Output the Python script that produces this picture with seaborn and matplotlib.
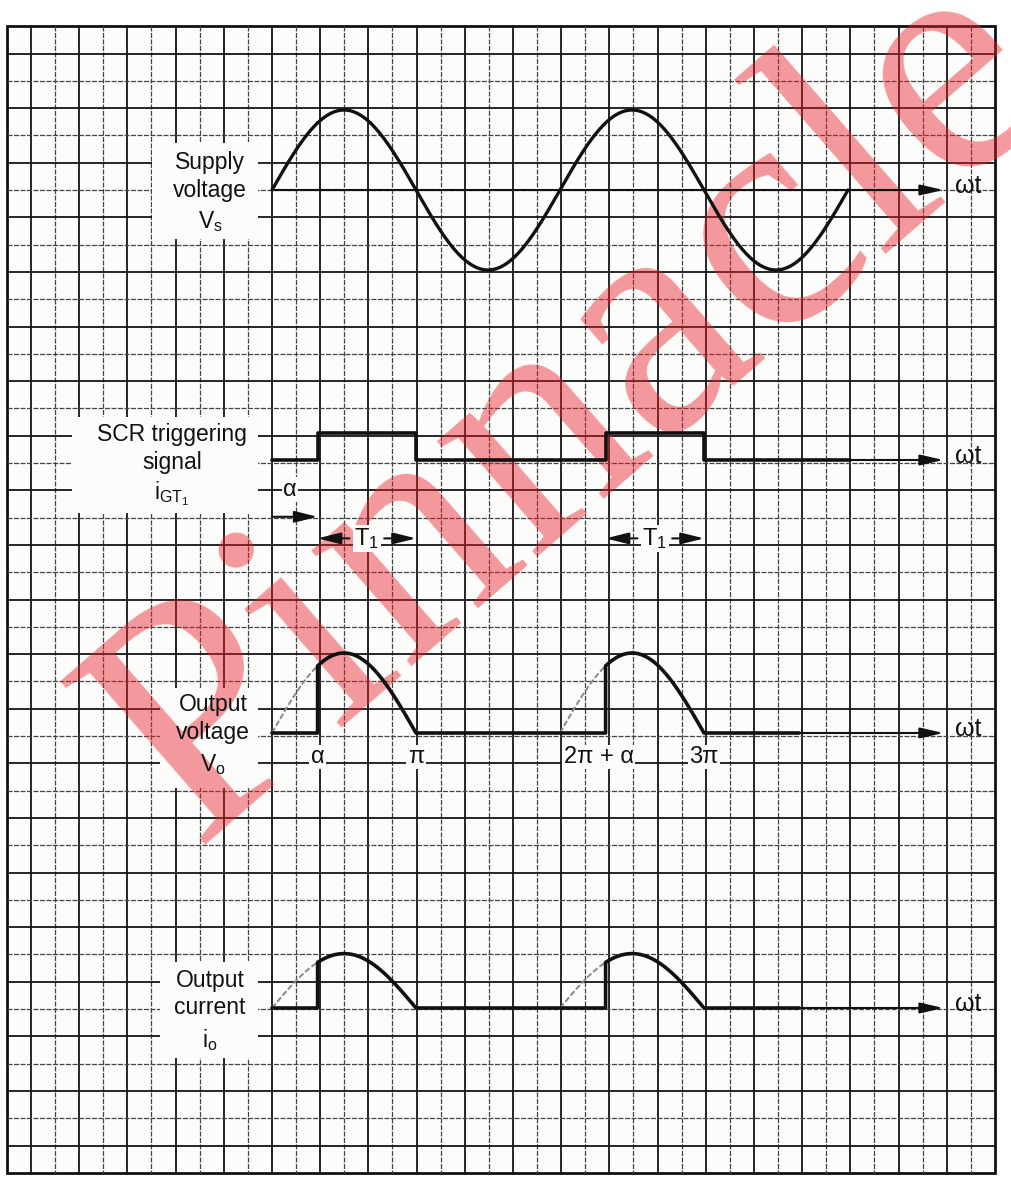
import numpy as np
import pandas as pd
import matplotlib
matplotlib.use("Agg")
from matplotlib import pyplot as plt
from matplotlib.patches import Rectangle
import seaborn as sns

# switching angles of the half-wave controlled rectifier (radians)
alpha = np.deg2rad(57)
fire_angles = [alpha, 2 * np.pi + alpha]
cutoff_angles = [np.pi, 3 * np.pi]
cycle_starts = [0.0, 2 * np.pi]
supply_end = 4 * np.pi

# peak heights, in units of 3 grid squares
vs_peak = 1.0
vo_peak = 1.0
io_peak = 0.68
gate_height = 0.34

output_ticks = [alpha, np.pi, 2 * np.pi + alpha, 3 * np.pi]
output_tick_labels = ["α", "π", "2π + α", "3π"]

supply_label = ["Supply", "voltage", r"$\mathregular{V_s}$"]
gate_label = ["SCR triggering", "signal", r"$\mathregular{i_{GT_1}}$"]
vo_label = ["Output", "voltage", r"$\mathregular{V_o}$"]
io_label = ["Output", "current", r"$\mathregular{i_o}$"]

# page layout in pixels
W, H = 1012, 1189
X0 = 272                  # where wt = 0 sits
PX_PER_RAD = 144 / np.pi  # pi spans six squares
PX_PER_UNIT = 80
CELL_X, CELL_Y = 24.1, 27.3
BASELINES = [190, 460, 733, 1008]
PAPER = "#fcfcfa"

sns.set_theme(style="white")
plt.rcParams["font.family"] = ["Liberation Sans", "DejaVu Sans"]
plt.rcParams["mathtext.fontset"] = "custom"
plt.rcParams["mathtext.rm"] = "Liberation Sans"
plt.rcParams["mathtext.it"] = "Liberation Sans"

fig = plt.figure(figsize=(W / 100, H / 100), dpi=100)
fig.patch.set_facecolor("white")

# ---- graph paper ----
paper = fig.add_axes([0, 0, 1, 1])
paper.set_xlim(0, W)
paper.set_ylim(H, 0)
paper.axis("off")
top, bottom = BASELINES[0] - 6 * CELL_Y, BASELINES[0] + 36 * CELL_Y
left, right = X0 - 11 * CELL_X, X0 + 30 * CELL_X
paper.add_patch(Rectangle((left, top), right - left, bottom - top,
                          facecolor=PAPER, edgecolor="#111", lw=2.0, zorder=0))
for k in range(-10, 30):
    x = X0 + k * CELL_X
    if k % 2 == 0:
        paper.vlines(x, top, bottom, color="#151515", lw=1.3, zorder=1)
    else:
        paper.vlines(x, top, bottom, color="#444", lw=0.9,
                     linestyles=(0, (4, 1.2)), zorder=1)
for j in range(-5, 36):
    y = BASELINES[0] + j * CELL_Y
    if j % 2 != 0:
        paper.hlines(y, left, right, color="#151515", lw=1.3, zorder=1)
    else:
        paper.hlines(y, left, right, color="#444", lw=0.9,
                     linestyles=(0, (4, 1.2)), zorder=1)

# cleared areas behind the row labels
for (bx, by, bw, bh) in [(152, 143, 106, 96), (72, 417, 186, 96),
                         (160, 688, 98, 100), (160, 962, 98, 96)]:
    paper.add_patch(Rectangle((bx, by), bw, bh, facecolor=PAPER,
                              edgecolor="none", zorder=2))

# publisher watermark (runs off the top right corner, as in the scan)
paper.text(575, 410, "Pinnacle", rotation=41, fontsize=240,
           family="Liberation Serif", color="#e8202a", alpha=0.45,
           ha="center", va="center", rotation_mode="anchor", zorder=3)


def row_label(lines, cx, ys):
    for txt, y in zip(lines, ys):
        paper.text(cx, y, txt, ha="center", va="center", fontsize=16.5,
                   color="#111", zorder=5)


row_label(supply_label, 210, [162, 190, 222])
row_label(gate_label, 172, [435, 462, 494])
row_label(vo_label, 213, [705, 733, 765])
row_label(io_label, 210, [980, 1007, 1040])


# ---- waveform rows ----
X_LO, X_HI = -0.3, 15.8
Y_LO, Y_HI = -1.3, 1.3


def wave_axes(base):
    l = (X0 + X_LO * PX_PER_RAD) / W
    w = (X_HI - X_LO) * PX_PER_RAD / W
    b = 1 - (base - Y_LO * PX_PER_UNIT) / H
    h = (Y_HI - Y_LO) * PX_PER_UNIT / H
    ax = fig.add_axes([l, b, w, h])
    ax.set_xlim(X_LO, X_HI)
    ax.set_ylim(Y_LO, Y_HI)
    ax.axis("off")
    ax.patch.set_alpha(0)
    return ax


def wt_axis(ax, start, lw=1.5):
    ax.annotate("", xy=(14.65, 0), xytext=(start, 0),
                arrowprops=dict(arrowstyle="-|>,head_length=1.4,head_width=0.32",
                                color="#111", lw=lw, shrinkA=0, shrinkB=0,
                                mutation_scale=10))
    ax.text(14.9, 0.05, "ωt", ha="left", va="center", fontsize=18, color="#111")


def draw(ax, xs, ys, **kw):
    df = pd.DataFrame({"wt": xs, "v": ys})
    sns.lineplot(data=df, x="wt", y="v", ax=ax, sort=False, estimator=None, **kw)


def output_trace(peak, end):
    xs, ys = [0.0], [0.0]
    for f, c in zip(fire_angles, cutoff_angles):
        arc = np.linspace(f, c, 150)
        xs += [f, f] + list(arc)
        ys += [0.0, peak * np.sin(f)] + list(peak * np.sin(arc))
    xs.append(end)
    ys.append(0.0)
    return xs, ys


# supply voltage
ax1 = wave_axes(BASELINES[0])
wt_axis(ax1, 0)
t = np.linspace(0, supply_end, 800)
draw(ax1, t, vs_peak * np.sin(t), color="#111", lw=2.4)

# gate pulses
ax2 = wave_axes(BASELINES[1])
gx, gy = [0.0], [0.0]
for f, c in zip(fire_angles, cutoff_angles):
    gx += [f, f, c, c]
    gy += [0.0, gate_height, gate_height, 0.0]
gx.append(12.6)
gy.append(0.0)
wt_axis(ax2, 12.6)
draw(ax2, gx, gy, color="#111", lw=2.6)
ax2.text(alpha / 2 - 0.1, -0.37, "α", ha="center", va="center", fontsize=17,
         color="#111", bbox=dict(fc=PAPER, ec="none", pad=1))
ax2.annotate("", xy=(alpha, -0.71), xytext=(0, -0.71),
             arrowprops=dict(arrowstyle="-|>,head_length=1.4,head_width=0.35",
                             color="#111", lw=1.5, shrinkA=0, shrinkB=0,
                             mutation_scale=10))
for f, c in zip(fire_angles, cutoff_angles):
    mid = (f + c) / 2
    ax2.text(mid, -0.98, r"$\mathregular{T_1}$", ha="center", va="center",
             fontsize=17, color="#111",
             bbox=dict(fc=PAPER, ec="none", pad=1))
    for end, sgn in [(f, -1), (c, 1)]:
        ax2.annotate("", xy=(end, -0.98), xytext=(mid + sgn * 0.38, -0.98),
                     arrowprops=dict(arrowstyle="-|>,head_length=1.4,head_width=0.35",
                                     color="#111", lw=1.5, shrinkA=0, shrinkB=0,
                                     mutation_scale=10))

# output voltage and current
for base, peak in [(BASELINES[2], vo_peak), (BASELINES[3], io_peak)]:
    ax = wave_axes(base)
    wt_axis(ax, 11.5)
    for s, f in zip(cycle_starts, fire_angles):
        arc = np.linspace(s, f, 60)
        draw(ax, arc, peak * np.sin(arc), color="#8a8a8a", lw=1.4,
             linestyle=(0, (3, 1.2)))
    ox, oy = output_trace(peak, 11.5)
    draw(ax, ox, oy, color="#111", lw=2.6)
    if base == BASELINES[2]:
        for x, lab in zip(output_ticks, output_tick_labels):
            shift = -0.15 if lab == "2π + α" else 0.0
            ax.text(x + shift, -0.3, lab, ha="center", va="center",
                    fontsize=17, color="#111",
                    bbox=dict(fc=PAPER, ec="none", pad=1))

fig.savefig("out.png", dpi=100, facecolor="white")
